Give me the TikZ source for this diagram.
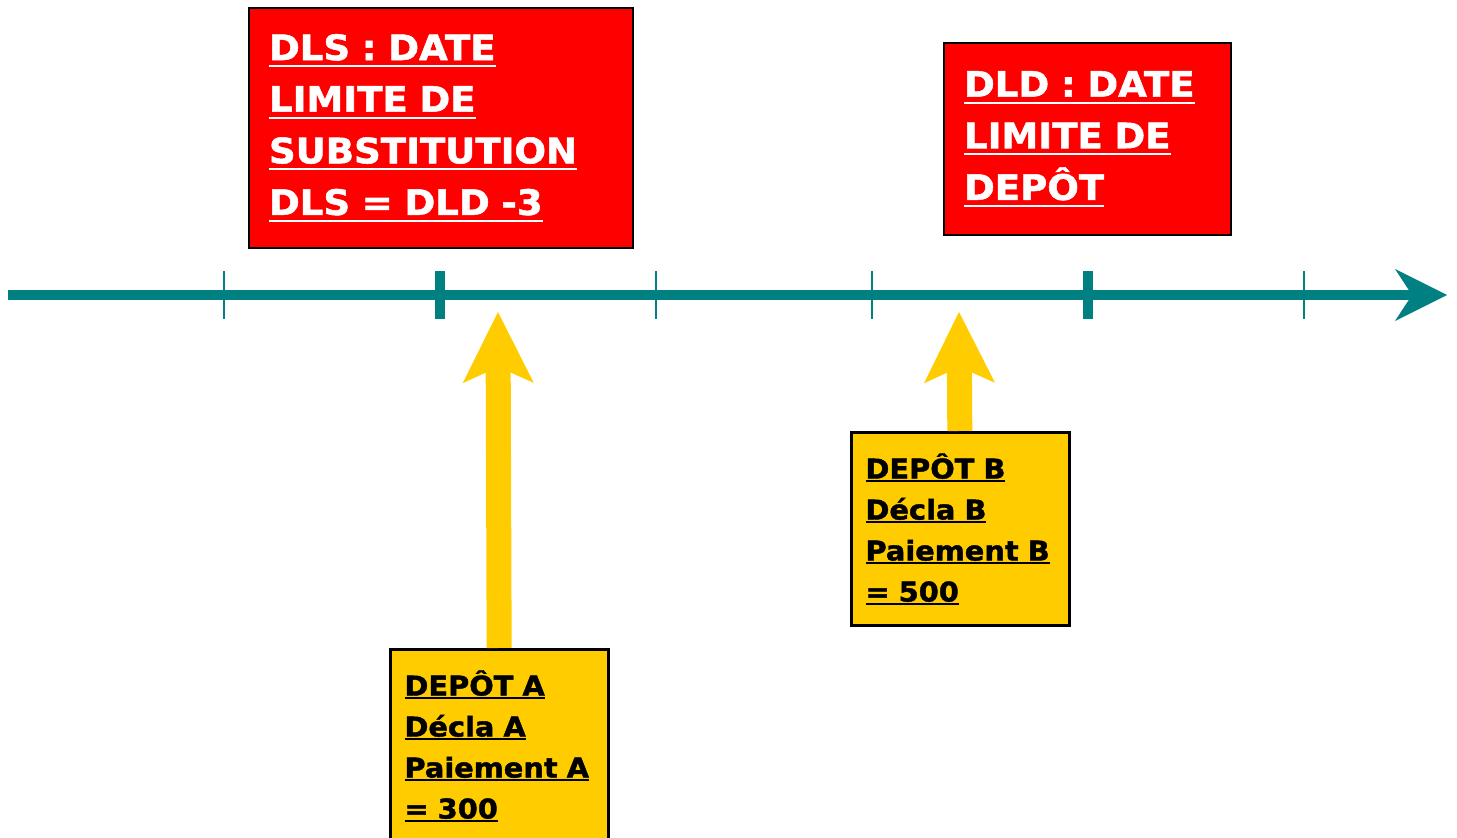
\documentclass[tikz,border=0pt]{standalone}
\usepackage{fontspec}
\setmainfont{DejaVu Sans}[BoldFeatures={FakeStretch=1.06, FakeBold=1.5}]
\usepackage{xcolor}
\usepackage{tikz}
\usetikzlibrary{arrows.meta}
\definecolor{sarcelle}{HTML}{008080}
\definecolor{rougevif}{HTML}{FF0000}
\definecolor{jaunevif}{HTML}{FFCC00}
\newcommand{\souligne}[2][3.5pt]{\leavevmode\setbox0\hbox{#2}\rlap{\rule[-#1]{\wd0}{0.9pt}}\box0}
\tikzstyle{rouge} = [rectangle, draw=black, line width=1pt, fill=rougevif, text=white, anchor=north west, inner xsep=10pt, align=left, font=\bfseries\fontsize{17.5}{25.8}\selectfont]
\tikzstyle{jaune} = [rectangle, draw=black, line width=1.5pt, fill=jaunevif, text=black, anchor=north west, inner xsep=7pt, minimum width=109pt, minimum height=96.5pt, text width=95pt, align=left, font=\bfseries\fontsize{13.6}{20.5}\selectfont]
\tikzstyle{axe} = [sarcelle, line width=5pt, -{Stealth[length=26pt, width=26pt, inset=8.5pt, line width=0pt]}]
\tikzstyle{graduation} = [sarcelle, line width=1pt]
\tikzstyle{repere} = [sarcelle, line width=5pt]
\tikzstyle{fleche} = [jaunevif, line width=12.5pt, -{Stealth[length=35.5pt, width=35.5pt, inset=8pt, line width=0pt]}]

\begin{document}
\begin{tikzpicture}[x=0.5pt, y=-0.5pt]
    \useasboundingbox (0,0) rectangle (1457,838);

    %% axe du temps
    \coordinate (debut) at (8,295);
    \coordinate (fin) at (1447,295);
    \draw[axe] (debut) -- (fin);

    %% graduations
    \foreach \x in {224,656,872,1304} \draw[graduation] (\x,271) -- (\x,319);
    \foreach \x in {440,1088} \draw[repere] (\x,271) -- (\x,319);

    %% date limite de substitution
    \node (DLS) [rouge, minimum width=192pt, minimum height=120pt, text width=172pt] at (248,7)
        {\souligne{DLS : DATE}\\ \souligne{LIMITE DE}\\ \souligne{SUBSTITUTION}\\ \souligne{DLS = DLD -3}};

    %% date limite de depot
    \node (DLD) [rouge, minimum width=143.5pt, minimum height=96pt, text width=123.5pt] at (943,42)
        {\souligne{DLD : DATE}\\ \souligne{LIMITE DE}\\ \souligne{DEPÔT}};

    %% depot A
    \node (depotA) [jaune] at (389,648)
        {\souligne[1.6pt]{DEPÔT A}\\ \souligne[1.6pt]{Décla A}\\ \souligne[1.6pt]{Paiement A}\\ \souligne[1.6pt]{= 300}};
    \coordinate (pointeA) at (498,312);
    \draw[fleche] (depotA) -- (pointeA);

    %% depot B
    \node (depotB) [jaune] at (850,431)
        {\souligne[1.6pt]{DEPÔT B}\\ \souligne[1.6pt]{Décla B}\\ \souligne[1.6pt]{Paiement B}\\ \souligne[1.6pt]{= 500}};
    \coordinate (pointeB) at (959,312);
    \draw[fleche] (depotB) -- (pointeB);
\end{tikzpicture}
\end{document}
